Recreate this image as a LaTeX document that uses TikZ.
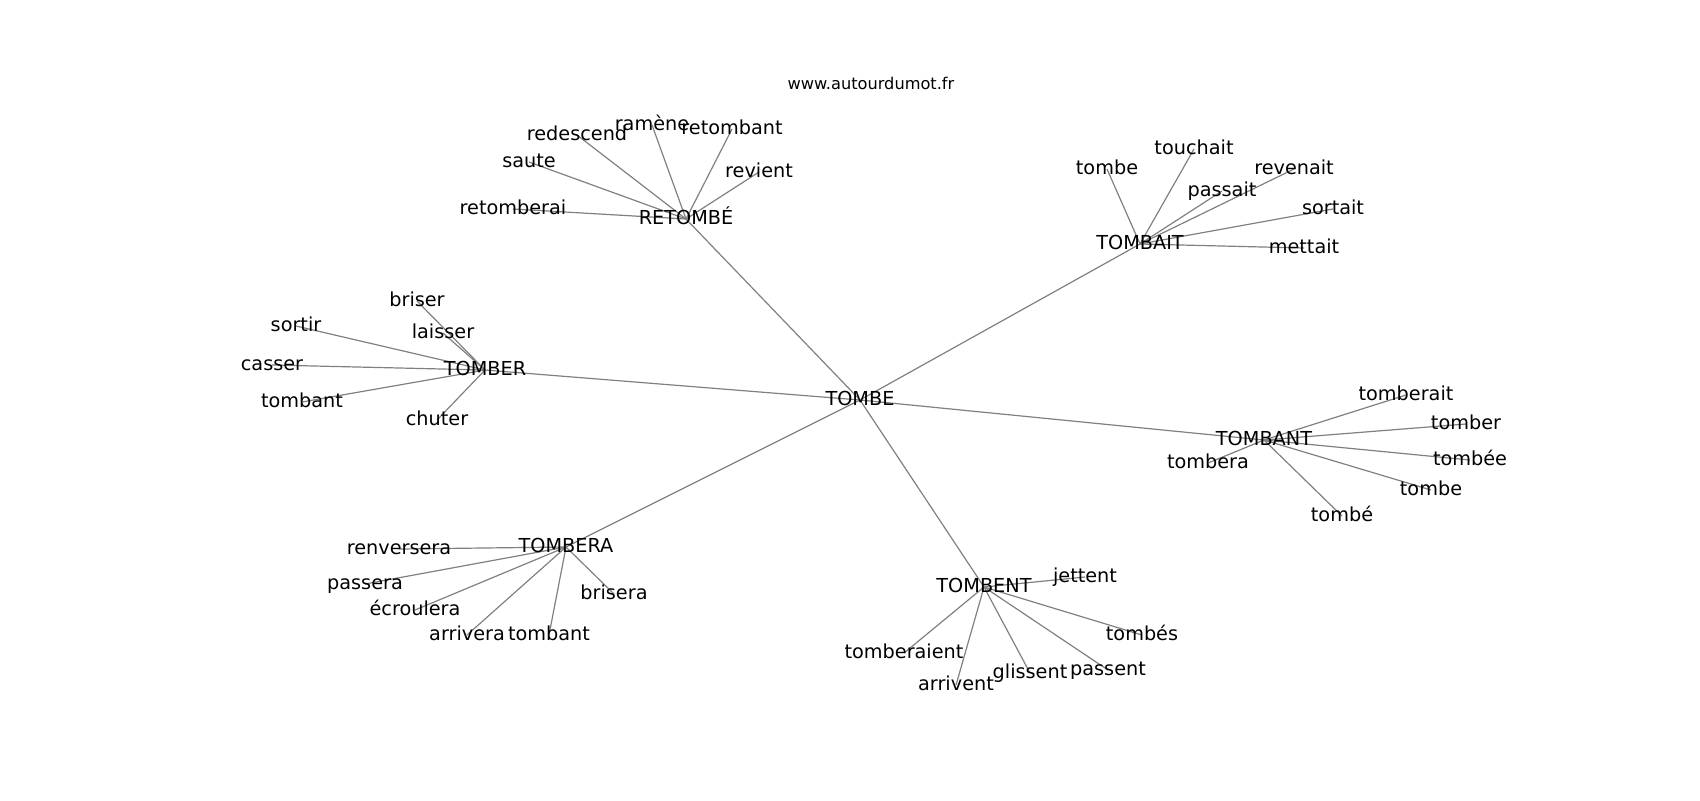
\documentclass[tikz,border=0pt]{standalone}
\usepackage{fontspec}
\setmainfont{DejaVu Sans}
\usetikzlibrary{backgrounds}
\tikzset{
  lbl/.style={inner sep=0pt, text height=0.76em, text depth=0.24em, font=\fontsize{9.63pt}{11pt}\selectfont},
  edge/.style={draw=black!50, line width=0.6pt},
  ttl/.style={inner sep=0pt, font=\fontsize{8.1pt}{10pt}\selectfont}
}
\begin{document}
\begin{tikzpicture}[x=0.5pt,y=-0.5pt]
\useasboundingbox (0,0) rectangle (1700,800);
\node[ttl] (title) at (871,83) {www.autourdumot.fr};
% hubs
\node[lbl] (TOMBE) at (860,400) {TOMBE};
\node[lbl] (RETOMBE) at (686,219) {RETOMBÉ};
\node[lbl] (TOMBAIT) at (1140,244) {TOMBAIT};
\node[lbl] (TOMBER) at (485,370) {TOMBER};
\node[lbl] (TOMBANT) at (1264,440) {TOMBANT};
\node[lbl] (TOMBERA) at (566,547) {TOMBERA};
\node[lbl] (TOMBENT) at (984,587) {TOMBENT};
% RETOMBE leaves
\node[lbl] (retomberai) at (513,209) {retomberai};
\node[lbl] (saute) at (529,162) {saute};
\node[lbl] (redescend) at (577,135) {redescend};
\node[lbl] (ramene) at (652,125) {ramène};
\node[lbl] (retombant) at (732,129) {retombant};
\node[lbl] (revient) at (759,172) {revient};
% TOMBAIT leaves
\node[lbl] (tombeA) at (1107,169) {tombe};
\node[lbl] (touchait) at (1194,149) {touchait};
\node[lbl] (revenait) at (1294,169) {revenait};
\node[lbl] (passait) at (1222,191) {passait};
\node[lbl] (sortait) at (1333,209) {sortait};
\node[lbl] (mettait) at (1304,248) {mettait};
% TOMBER leaves
\node[lbl] (briser) at (417,301) {briser};
\node[lbl] (laisser) at (443,333) {laisser};
\node[lbl] (sortir) at (296,326) {sortir};
\node[lbl] (casser) at (272,365) {casser};
\node[lbl] (tombantR) at (302,402) {tombant};
\node[lbl] (chuter) at (437,420) {chuter};
% TOMBANT leaves
\node[lbl] (tombera) at (1208,463) {tombera};
\node[lbl] (tomberait) at (1406,395) {tomberait};
\node[lbl] (tomber) at (1466,424) {tomber};
\node[lbl] (tombee) at (1470,460) {tombée};
\node[lbl] (tombeB) at (1431,490) {tombe};
\node[lbl] (tombeC) at (1342,516) {tombé};
% TOMBERA leaves
\node[lbl] (renversera) at (399,549) {renversera};
\node[lbl] (passera) at (365,584) {passera};
\node[lbl] (ecroulera) at (415,610) {écroulera};
\node[lbl] (arrivera) at (467,635) {arrivera};
\node[lbl] (tombantE) at (549,635) {tombant};
\node[lbl] (brisera) at (614,594) {brisera};
% TOMBENT leaves
\node[lbl] (jettent) at (1085,577) {jettent};
\node[lbl] (tomberaient) at (904,653) {tomberaient};
\node[lbl] (arrivent) at (956,685) {arrivent};
\node[lbl] (glissent) at (1030,673) {glissent};
\node[lbl] (passent) at (1108,670) {passent};
\node[lbl] (tombes) at (1142,635) {tombés};
\begin{scope}[on background layer]
\foreach \h in {RETOMBE,TOMBAIT,TOMBER,TOMBANT,TOMBERA,TOMBENT}
  \draw[edge] (TOMBE.center) -- (\h.center);
\foreach \l in {retomberai,saute,redescend,ramene,retombant,revient}
  \draw[edge] (RETOMBE.center) -- (\l.center);
\foreach \l in {tombeA,touchait,revenait,passait,sortait,mettait}
  \draw[edge] (TOMBAIT.center) -- (\l.center);
\foreach \l in {briser,laisser,sortir,casser,tombantR,chuter}
  \draw[edge] (TOMBER.center) -- (\l.center);
\foreach \l in {tombera,tomberait,tomber,tombee,tombeB,tombeC}
  \draw[edge] (TOMBANT.center) -- (\l.center);
\foreach \l in {renversera,passera,ecroulera,arrivera,tombantE,brisera}
  \draw[edge] (TOMBERA.center) -- (\l.center);
\foreach \l in {jettent,tomberaient,arrivent,glissent,passent,tombes}
  \draw[edge] (TOMBENT.center) -- (\l.center);
\end{scope}
\end{tikzpicture}
\end{document}
